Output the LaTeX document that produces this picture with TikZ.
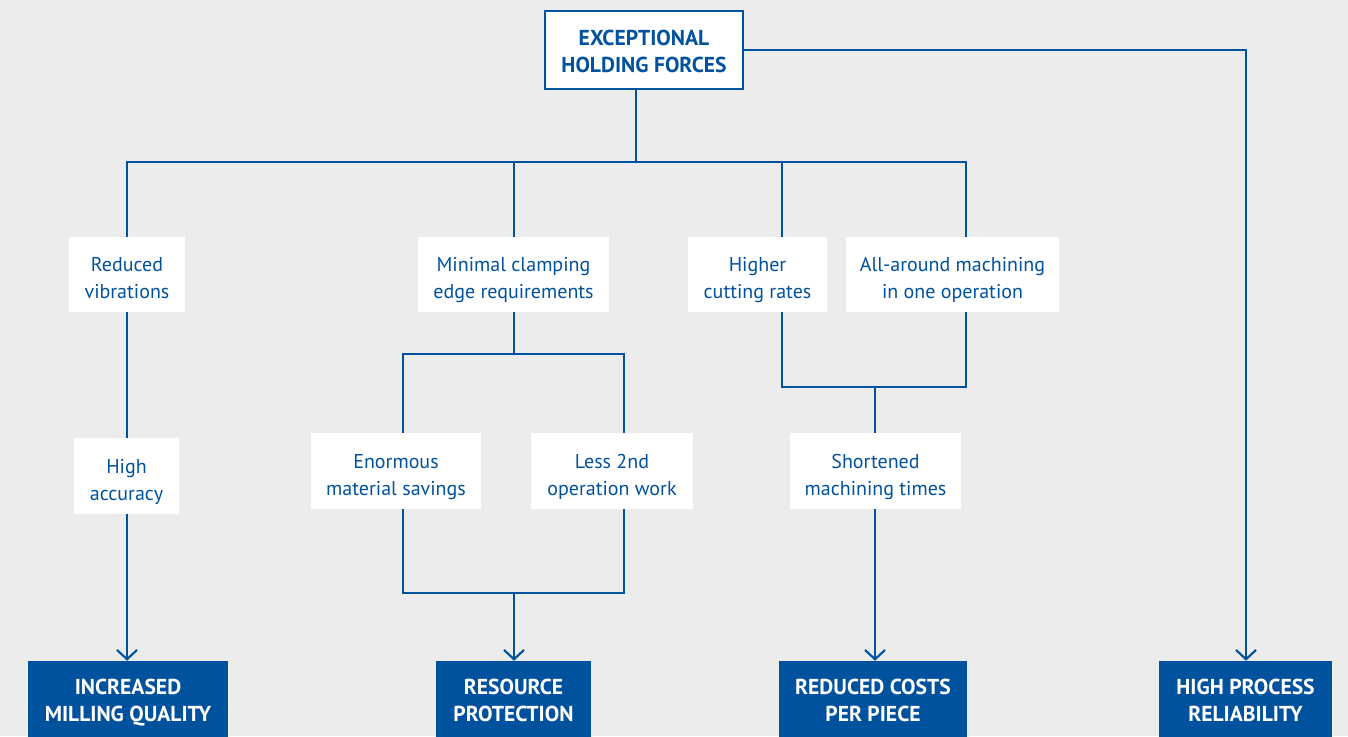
\documentclass[tikz,border=0pt]{standalone}
\usepackage{fontspec}
\setmainfont{PT Sans}
\usetikzlibrary{arrows.meta}
\definecolor{bblue}{RGB}{0,82,158}
\definecolor{bg}{RGB}{236,236,236}
% two centred lines with fixed top and bottom struts
\newcommand{\twol}[3]{\rule{0pt}{#1}#2\\#3\rule[-3.5pt]{0pt}{3.5pt}}
\begin{document}
\begin{tikzpicture}[x=0.75pt,y=-0.75pt,
  conn/.style={draw=bblue,line width=2pt},
  arr/.style={conn,-{Straight Barb[length=7pt,width=15pt,line width=1.6pt]}},
  wbox/.style={fill=white,text=bblue,align=center,font=\fontsize{15}{20.25}\selectfont,inner sep=0pt},
  topbox/.style={fill=white,draw=bblue,line width=2.2pt,text=bblue,align=center,font=\fontsize{16.2}{20.25}\selectfont\bfseries,inner sep=0pt},
  bbox/.style={fill=bblue,text=white,align=center,font=\fontsize{16.2}{20.25}\selectfont\bfseries,inner sep=0pt},
]
\useasboundingbox (0,0) rectangle (1348,736);
\clip (0,0) rectangle (1348,736);
\fill[bg] (0,0) rectangle (1348,736);

% nodes
\node[topbox,minimum width=198*0.75pt,minimum height=78*0.75pt] (top) at (644,50) {\twol{17.6pt}{EXCEPTIONAL}{HOLDING FORCES}};

\node[wbox,minimum width=116*0.75pt,minimum height=75*0.75pt] (rv) at (127,274.5) {\twol{19.4pt}{Reduced}{vibrations}};
\node[wbox,minimum width=191*0.75pt,minimum height=75*0.75pt] (mc) at (513.5,274.5) {\twol{19.4pt}{Minimal clamping}{edge requirements}};
\node[wbox,minimum width=139*0.75pt,minimum height=75*0.75pt] (hc) at (757.5,274.5) {\twol{19.4pt}{Higher}{cutting rates}};
\node[wbox,minimum width=213*0.75pt,minimum height=75*0.75pt] (aa) at (952.5,274.5) {\twol{19.4pt}{All-around machining}{in one operation}};

\node[wbox,minimum width=105*0.75pt,minimum height=76*0.75pt] (ha) at (126.5,476) {\twol{19.4pt}{High}{accuracy}};
\node[wbox,minimum width=170*0.75pt,minimum height=76*0.75pt] (em) at (396,471) {\twol{19.4pt}{Enormous}{material savings}};
\node[wbox,minimum width=162*0.75pt,minimum height=76*0.75pt] (l2) at (612,471) {\twol{19.4pt}{Less 2nd}{operation work}};
\node[wbox,minimum width=171*0.75pt,minimum height=76*0.75pt] (sm) at (875.5,471) {\twol{19.4pt}{Shortened}{machining times}};

\node[bbox,minimum width=200*0.75pt,minimum height=78*0.75pt] (b1) at (128,700) {\twol{15.9pt}{INCREASED}{MILLING QUALITY}};
\node[bbox,minimum width=155*0.75pt,minimum height=78*0.75pt] (b2) at (513.5,700) {\twol{15.9pt}{RESOURCE}{PROTECTION}};
\node[bbox,minimum width=188*0.75pt,minimum height=78*0.75pt] (b3) at (873,700) {\twol{15.9pt}{REDUCED COSTS}{PER PIECE}};
\node[bbox,minimum width=173*0.75pt,minimum height=78*0.75pt] (b4) at (1245.5,700) {\twol{15.9pt}{HIGH PROCESS}{RELIABILITY}};

% junction coordinates
\coordinate (j0) at (636,162);
\coordinate (jl) at (127,162);
\coordinate (jr) at (966,162);
\coordinate (jm) at (514,354);
\coordinate (jml) at (403,354);
\coordinate (jmr) at (624,354);
\coordinate (kml) at (403,593);
\coordinate (kmr) at (624,593);
\coordinate (km) at (514,593);
\coordinate (jhl) at (782,387);
\coordinate (jhr) at (966,387);
\coordinate (jh) at (875,387);
\coordinate (tr) at (1246,50);

% connectors
\draw[conn] (top.south -| j0) -- (j0);
\draw[conn] (jl |- rv.north) -- (jl) -- (jr) -- (jr |- aa.north);
\draw[conn] (514,162) -- (mc.north -| 514,0);
\draw[conn] (782,162) -- (hc.north -| 782,0);
\draw[arr] (top.east) -- (tr) -- (b4.north -| tr);

\draw[conn] (rv.south -| 127,0) -- (ha.north -| 127,0);
\draw[arr] (ha.south -| 127,0) -- (b1.north -| 127,0);

\draw[conn] (mc.south -| jm) -- (jm);
\draw[conn] (em.north -| jml) -- (jml) -- (jmr) -- (l2.north -| jmr);
\draw[conn] (em.south -| kml) -- (kml) -- (kmr) -- (l2.south -| kmr);
\draw[arr] (km) -- (b2.north -| km);

\draw[conn] (hc.south -| jhl) -- (jhl) -- (jhr) -- (aa.south -| jhr);
\draw[conn] (jh) -- (sm.north -| jh);
\draw[arr] (sm.south -| jh) -- (b3.north -| jh);
\end{tikzpicture}
\end{document}
